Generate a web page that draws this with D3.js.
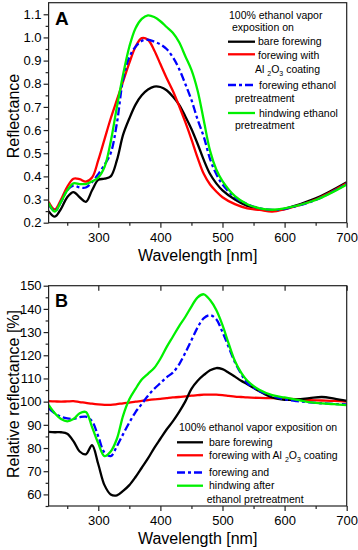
<!DOCTYPE html>
<html>
<head>
<meta charset="utf-8">
<script src="https://cdn.jsdelivr.net/npm/d3@7"></script>
<style>
    body { margin: 0; background: #fff; }
    svg { display: block; font-family: "Liberation Sans", Arial, sans-serif; }
    .tick text { font-size: 13px; fill: #000; }
    .tick line { stroke: #222; stroke-width: 1.2; }
    .label { font-size: 16px; fill: #000; }
    .legend { font-size: 10.5px; fill: #000; }
</style>
</head>
<body>
<script>
/* wavelength grids (nm) */
var wlA = [220, 230, 240, 250, 260, 270, 280, 290, 300, 310, 320, 330, 340, 350, 360, 370, 380, 390, 400,
           410, 420, 430, 440, 450, 460, 470, 480, 490, 500, 520, 540, 560, 580, 600, 650, 700];
var wlB = [220, 230, 240, 250, 260, 270, 280, 290, 300, 310, 320, 330, 340, 350, 360, 370, 380, 390, 400,
           410, 420, 430, 440, 450, 460, 470, 480, 490, 500, 510, 520, 530, 540, 560, 580, 600, 620, 640, 660, 680, 700];

/* panel A: reflectance */
var bareA     = [0.25, 0.226, 0.26, 0.31, 0.332, 0.31, 0.29, 0.34, 0.385, 0.39, 0.40, 0.47, 0.58, 0.65, 0.71, 0.75, 0.775, 0.788, 0.786,
                 0.772, 0.745, 0.71, 0.66, 0.605, 0.54, 0.47, 0.41, 0.37, 0.34, 0.30, 0.272, 0.258, 0.252, 0.26, 0.305, 0.375];
var al2o3A    = [0.29, 0.257, 0.30, 0.355, 0.39, 0.388, 0.377, 0.395, 0.47, 0.56, 0.65, 0.73, 0.81, 0.89, 0.96, 0.997, 0.99, 0.945, 0.885,
                 0.825, 0.77, 0.705, 0.635, 0.56, 0.48, 0.41, 0.365, 0.335, 0.31, 0.28, 0.262, 0.255, 0.248, 0.258, 0.30, 0.37];
var foreEthA  = [0.28, 0.25, 0.29, 0.34, 0.36, 0.352, 0.352, 0.375, 0.41, 0.45, 0.50, 0.63, 0.82, 0.915, 0.96, 0.985, 0.99, 0.982, 0.97,
                 0.95, 0.915, 0.865, 0.80, 0.73, 0.645, 0.57, 0.475, 0.41, 0.365, 0.31, 0.28, 0.262, 0.255, 0.26, 0.298, 0.368];
var hindEthA  = [0.285, 0.248, 0.29, 0.34, 0.37, 0.367, 0.367, 0.378, 0.395, 0.44, 0.55, 0.70, 0.84, 0.96, 1.04, 1.08, 1.095, 1.088, 1.07,
                 1.045, 1.02, 0.98, 0.92, 0.86, 0.77, 0.64, 0.51, 0.43, 0.38, 0.315, 0.28, 0.262, 0.256, 0.262, 0.298, 0.365];

/* panel B: relative reflectance (%) */
var bareB     = [87, 86.8, 86.8, 86.2, 83, 78.5, 77.3, 81.2, 73, 64, 60, 59.6, 61.5, 64, 67.5, 71.5, 75.5, 80, 84,
                 88, 91.5, 95.5, 100, 105.5, 109, 111.5, 113.5, 114.5, 114, 112.5, 110.8, 109, 107.5, 104.4, 101.8, 100.8, 101, 101.5, 102, 101.3, 100.3];
var al2o3B    = [100.2, 100.1, 100, 100.1, 100.2, 99.8, 99.5, 99.1, 98.8, 98.6, 98.6, 98.9, 99.3, 99.6, 100, 100.3, 100.7, 101, 101.2,
                 101.5, 101.8, 102, 102.3, 102.6, 102.8, 103, 103, 103, 102.8, 102.5, 102.2, 102, 101.8, 101.6, 101.5, 101.3, 101, 100.7, 100.5, 100.3, 100];
var foreEthB  = [97.2, 95, 93.5, 92.8, 92.6, 93.3, 93.5, 91.5, 85, 78, 76.5, 80.8, 86, 91, 95.5, 99, 102.5, 105.5, 108,
                 110.5, 112.5, 116, 121, 126.5, 132, 136, 137.3, 135.5, 130, 123.5, 117, 112, 108, 104.5, 102.5, 101, 100.2, 99.7, 99.3, 99, 98.8];
var hindEthB  = [98.6, 95, 92.5, 91.5, 92.5, 95, 95.5, 89, 82, 76.5, 78.5, 84, 94, 101, 105.5, 109.5, 112, 114.5, 118.5,
                 123.5, 128, 132.5, 136.5, 141, 145, 146.3, 143.8, 139.5, 133, 125, 117.5, 112.5, 109, 105, 102.8, 101.8, 100.8, 99.8, 99.3, 98.9, 98.5];

/* tick values */
var xMajor = [300, 400, 500, 600, 700];
var xMinor = [250, 350, 450, 550, 650];
var yMajorA = [0.2, 0.3, 0.4, 0.5, 0.6, 0.7, 0.8, 0.9, 1.0, 1.1];
var yMinorA = [0.25, 0.35, 0.45, 0.55, 0.65, 0.75, 0.85, 0.95, 1.05];
var yMajorB = [60, 70, 80, 90, 100, 110, 120, 130, 140, 150];
var yMinorB = [55, 65, 75, 85, 95, 105, 115, 125, 135, 145];

var width = 358;
var height = 550;

var svg = d3.select("body")
            .append("svg")
            .attr("width", width)
            .attr("height", height);

var left = 48.6, right = 346.7;

var xScale = d3.scaleLinear()
                .domain([220, 700])
                .range([left, right]);

/* draws one panel with frame, axes and curves */
function drawPanel(opt) {
    var yScale = d3.scaleLinear()
                    .domain(opt.yDomain)
                    .range([opt.bottom, opt.top]);

    var g = svg.append("g");

    var line = function(values, wl) {
        return d3.line()
                 .x(function(d, i) { return xScale(wl[i]); })
                 .y(function(d) { return yScale(d); })
                 .curve(d3.curveCatmullRom.alpha(0.5))(values);
    };

    /* curves, clipped to plot area */
    var clipId = "clip" + opt.name;
    svg.append("clipPath").attr("id", clipId)
        .append("rect")
        .attr("x", left).attr("y", opt.top)
        .attr("width", right - left).attr("height", opt.bottom - opt.top);

    var curves = g.append("g").attr("clip-path", "url(#" + clipId + ")");
    opt.series.forEach(function(s) {
        curves.append("path")
            .attr("d", line(s.values, opt.wl))
            .attr("fill", "none")
            .attr("stroke", s.color)
            .attr("stroke-width", 2.3)
            .attr("stroke-dasharray", s.dash || null)
            .attr("stroke-linejoin", "round");
    });

    /* frame */
    g.append("rect")
        .attr("x", left).attr("y", opt.top)
        .attr("width", right - left).attr("height", opt.bottom - opt.top)
        .attr("fill", "none")
        .attr("stroke", "#222")
        .attr("stroke-width", 1.2);

    /* bottom axis */
    g.append("g")
        .attr("transform", "translate(0," + opt.bottom + ")")
        .call(d3.axisBottom(xScale).tickValues(xMajor).tickSize(5).tickPadding(5));
    g.append("g")
        .attr("transform", "translate(0," + opt.bottom + ")")
        .call(d3.axisBottom(xScale).tickValues(xMinor).tickSize(3).tickFormat(""));

    /* left axis */
    g.append("g")
        .attr("transform", "translate(" + left + ",0)")
        .call(d3.axisLeft(yScale).tickValues(opt.yMajor).tickSize(5).tickPadding(2).tickFormat(opt.fmt));
    g.append("g")
        .attr("transform", "translate(" + left + ",0)")
        .call(d3.axisLeft(yScale).tickValues(opt.yMinor).tickSize(3).tickFormat(""));

    /* inward top ticks */
    if (opt.topTicks) {
        g.append("g")
            .attr("transform", "translate(0," + opt.top + ")")
            .call(d3.axisBottom(xScale).tickValues(xMajor).tickSize(5).tickFormat(""));
    }

    g.selectAll(".domain").remove();

    /* x label */
    g.append("text")
        .attr("class", "label")
        .attr("x", (left + right) / 2)
        .attr("y", opt.bottom + 38)
        .attr("text-anchor", "middle")
        .text("Wavelength [nm]");

    /* y label */
    g.append("text")
        .attr("class", "label")
        .attr("transform", "translate(19," + opt.yLabelY + ") rotate(-90)")
        .attr("text-anchor", "middle")
        .text(opt.yLabel);

    /* panel letter */
    g.append("text")
        .attr("x", 55)
        .attr("y", opt.letterY)
        .attr("font-size", opt.letterSize)
        .attr("font-weight", "bold")
        .text(opt.name);

    return g;
}

var colors = { bare: "#000000", al: "#ff0000", fore: "#0000ff", hind: "#00f000" };
var dashDot = "8,3,3,3";

var gA = drawPanel({
    name: "A", top: 2.7, bottom: 222.7, yDomain: [0.2, 1.15],
    wl: wlA, yMajor: yMajorA, yMinor: yMinorA, fmt: d3.format(".1f"),
    yLabel: "Reflectance", yLabelY: 116, letterY: 25, letterSize: 19,
    series: [
        { values: bareA, color: colors.bare },
        { values: al2o3A, color: colors.al },
        { values: foreEthA, color: colors.fore, dash: dashDot },
        { values: hindEthA, color: colors.hind }
    ]
});

var gB = drawPanel({
    name: "B", top: 285.7, bottom: 506, yDomain: [55, 150],
    wl: wlB, yMajor: yMajorB, yMinor: yMinorB, fmt: d3.format("d"),
    yLabel: "Relative reflectance [%]", yLabelY: 394, letterY: 307, letterSize: 18,
    topTicks: true,
    series: [
        { values: al2o3B, color: colors.al },
        { values: bareB, color: colors.bare },
        { values: foreEthB, color: colors.fore, dash: dashDot },
        { values: hindEthB, color: colors.hind }
    ]
});

/* legend helpers */
function legendLine(g, x1, x2, y, color, dash) {
    g.append("line")
        .attr("x1", x1).attr("x2", x2)
        .attr("y1", y).attr("y2", y)
        .attr("stroke", color)
        .attr("stroke-width", 2.3)
        .attr("stroke-dasharray", dash || null);
}
function legendText(g, x, y, txt) {
    return g.append("text").attr("class", "legend").attr("x", x).attr("y", y).text(txt);
}
function alText(g, x, y, prefix) {
    var t = g.append("text").attr("class", "legend").attr("x", x).attr("y", y);
    t.append("tspan").text(prefix + "Al ");
    t.append("tspan").attr("font-size", 7).attr("dy", 3).text("2");
    t.append("tspan").attr("dy", -3).text("O");
    t.append("tspan").attr("font-size", 7).attr("dy", 3).text("3");
    t.append("tspan").attr("dy", -3).text(" coating");
}

/* legend A */
legendText(gA, 229, 18.5, "100% ethanol vapor");
legendText(gA, 232, 30.5, "exposition on");
legendLine(gA, 228, 255, 41.7, colors.bare);
legendText(gA, 258, 45, "bare forewing");
legendLine(gA, 228, 255, 54.3, colors.al);
legendText(gA, 258, 58.5, "forewing with");
alText(gA, 255, 72.5, "");
legendLine(gA, 228, 255, 85, colors.fore, dashDot);
legendText(gA, 259, 88.5, "forewing ethanol");
legendText(gA, 235, 101.5, "pretreatment");
legendLine(gA, 228, 255, 113, colors.hind);
legendText(gA, 259, 116.5, "hindwing ethanol");
legendText(gA, 235, 129, "pretreatment");

/* legend B */
legendText(gB, 179, 431, "100% ethanol vapor exposition on");
legendLine(gB, 177, 203, 442.3, colors.bare);
legendText(gB, 209, 446, "bare forewing");
legendLine(gB, 177, 203, 455.3, colors.al);
alText(gB, 209, 458.5, "forewing with ");
legendLine(gB, 177, 203, 472.5, colors.fore, dashDot);
legendText(gB, 209, 475.5, "forewing and");
legendLine(gB, 177, 203, 485.7, colors.hind);
legendText(gB, 209, 488.5, "hindwing after");
legendText(gB, 206.7, 502.5, "ethanol pretreatment");
</script>
</body>
</html>
